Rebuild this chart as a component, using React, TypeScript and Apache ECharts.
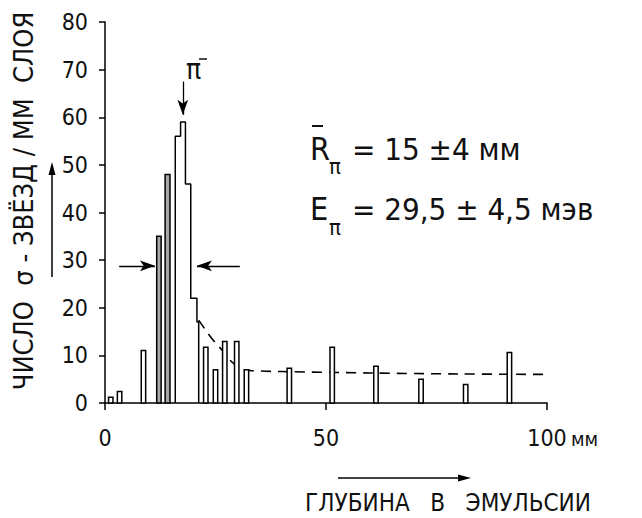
import React, { useEffect, useRef } from "react";
import * as echarts from "echarts";

// depth bins (mm) of the isolated histogram bars
const binLeft = [0.8, 2.8, 8.2, 11.7, 13.6, 22.3, 24.5, 26.6, 29.3, 31.5, 41.2, 50.9, 60.8, 71.0, 81.1, 91.0];
const binRight = [1.8, 3.8, 9.2, 12.7, 14.7, 23.3, 25.5, 27.6, 30.3, 32.5, 42.2, 51.9, 61.8, 72.0, 82.1, 92.0];
const binCount = [1.2, 2.4, 11, 35, 48, 11.7, 7.0, 12.9, 12.9, 7.0, 7.3, 11.7, 7.7, 5.0, 3.9, 10.6];
const binShaded = [0, 0, 0, 1, 1, 0, 0, 0, 0, 0, 0, 0, 0, 0, 0, 0];

// peak block (contiguous bins)
const peakEdges = [15.9, 17.1, 18.2, 19.4, 20.8, 21.2];
const peakCounts = [56, 59, 46, 22, 17];

// dashed background curve
const fitDepth = [21.2, 23, 25, 26.8, 28.3, 29.5, 31, 33, 40, 60, 80, 100];
const fitCount = [17.4, 15, 12.6, 10.8, 9, 8, 7.1, 6.8, 6.6, 6.3, 6.1, 6.0];

const xTickLabels = ["0", "50", "100"];

const FONT = "'DejaVu Sans Condensed', 'Liberation Sans Narrow', 'Liberation Sans', sans-serif";

export default function App() {
  const ref = useRef<HTMLDivElement>(null);
  useEffect(() => {
    if (!ref.current) return;
    const chart = echarts.init(ref.current, undefined, { renderer: "svg" });

    const peakLine: number[][] = [[peakEdges[0], 0]];
    peakCounts.forEach((v, i) => {
      peakLine.push([peakEdges[i], v]);
      peakLine.push([peakEdges[i + 1], v]);
    });
    peakLine.push([peakEdges[peakEdges.length - 1], 0]);

    const arrowHead = (x: number, y: number, dir: "up" | "down" | "left" | "right") => {
      const L = 13, W = 3.5;
      let pts: number[][] = [];
      if (dir === "up") pts = [[x, y], [x - W, y + L], [x + W, y + L]];
      if (dir === "down") pts = [[x, y], [x - W, y - L], [x + W, y - L]];
      if (dir === "right") pts = [[x, y], [x - L, y - W], [x - L, y + W]];
      if (dir === "left") pts = [[x, y], [x + L, y - W], [x + L, y + W]];
      return { type: "polygon", shape: { points: pts }, style: { fill: "#000" } };
    };

    chart.setOption({
      animation: false,
      backgroundColor: "#fff",
      grid: { left: 105, right: 95, top: 22, bottom: 115, containLabel: false },
      xAxis: {
        type: "value",
        min: 0,
        max: 100,
        interval: 50,
        axisLine: { lineStyle: { color: "#000", width: 1.5 } },
        axisTick: { show: true, length: 7, lineStyle: { color: "#000", width: 1.5 } },
        axisLabel: {
          color: "#111",
          fontSize: 23,
          fontFamily: FONT,
          margin: 23,
          formatter: (v: number) => xTickLabels[Math.round(v / 50)] ?? String(v),
        },
        splitLine: { show: false },
      },
      yAxis: {
        type: "value",
        min: 0,
        max: 80,
        interval: 10,
        axisLine: { show: true, lineStyle: { color: "#000", width: 1.5 } },
        axisTick: { show: true, length: 6, lineStyle: { color: "#000", width: 1.5 } },
        axisLabel: { color: "#111", fontSize: 23, fontFamily: FONT, margin: 17 },
        splitLine: { show: false },
      },
      series: [
        {
          type: "custom",
          renderItem: (params: any, api: any) => {
            const l = api.value(0), r = api.value(1), c = api.value(2), s = api.value(3);
            const p0 = api.coord([l, c]);
            const p1 = api.coord([r, 0]);
            return {
              type: "rect",
              shape: { x: p0[0], y: p0[1], width: p1[0] - p0[0], height: p1[1] - p0[1] },
              style: { fill: s ? "#a8a8a8" : "#fff", stroke: "#000", lineWidth: 1.5 },
            };
          },
          encode: { x: [0, 1], y: 2 },
          data: binLeft.map((l, i) => [l, binRight[i], binCount[i], binShaded[i]]),
          z: 3,
        },
        {
          type: "line",
          data: peakLine,
          symbol: "none",
          lineStyle: { color: "#000", width: 1.5 },
          z: 4,
          markLine: {
            silent: true,
            symbol: ["none", "arrow"],
            symbolSize: [8, 15],
            label: { show: false },
            lineStyle: { color: "#000", type: "solid", width: 1.3 },
            data: [
              [{ coord: [3.2, 28.8] }, { coord: [11.3, 28.8] }],
              [{ coord: [30.5, 28.8] }, { coord: [20.8, 28.8] }],
              [{ coord: [17.6, 67.5] }, { coord: [17.6, 60.5] }],
            ],
          },
        },
        {
          type: "line",
          data: fitDepth.map((d, i) => [d, fitCount[i]]),
          symbol: "none",
          smooth: 0.3,
          lineStyle: { color: "#000", width: 1.6, type: [10, 7] },
          z: 2,
        },
      ],
      graphic: [
        // pi- label over the peak arrow
        { type: "text", left: 186, top: 55, style: { text: "π", font: `28px ${FONT}`, fill: "#111" } },
        { type: "line", shape: { x1: 199, y1: 59, x2: 207, y2: 59 }, style: { stroke: "#111", lineWidth: 1.5 } },
        // R line
        { type: "text", x: 310, y: 149, style: { text: "R", font: `32px ${FONT}`, fill: "#111", verticalAlign: "middle" } },
        { type: "line", shape: { x1: 312, y1: 126, x2: 323, y2: 126 }, style: { stroke: "#111", lineWidth: 2 } },
        { type: "text", x: 329, y: 166, style: { text: "π", font: `22px ${FONT}`, fill: "#111", verticalAlign: "middle" } },
        { type: "text", x: 352, y: 149, style: { text: "= 15 ±4 мм", font: `31px ${FONT}`, fill: "#111", verticalAlign: "middle" } },
        // E line
        { type: "text", x: 310, y: 209, style: { text: "E", font: `32px ${FONT}`, fill: "#111", verticalAlign: "middle" } },
        { type: "text", x: 329, y: 227, style: { text: "π", font: `22px ${FONT}`, fill: "#111", verticalAlign: "middle" } },
        { type: "text", x: 352, y: 209, style: { text: "= 29,5 ± 4,5 мэв", font: `31px ${FONT}`, fill: "#111", verticalAlign: "middle" } },
        // y title
        {
          type: "text",
          x: 23,
          y: 201,
          rotation: Math.PI / 2,
          style: { text: "ЧИСЛО  σ - ЗВЁЗД / ММ  СЛОЯ", font: `27px ${FONT}`, fill: "#111", align: "center", verticalAlign: "middle" },
        },
        { type: "line", shape: { x1: 52, y1: 277, x2: 52, y2: 172 }, style: { stroke: "#000", lineWidth: 1.5 } },
        arrowHead(52, 162, "up"),
        // x unit
        { type: "text", x: 571, y: 439, style: { text: "мм", font: `20px ${FONT}`, fill: "#111", verticalAlign: "middle" } },
        // x title
        { type: "line", shape: { x1: 338, y1: 478, x2: 460, y2: 478 }, style: { stroke: "#000", lineWidth: 1.5 } },
        arrowHead(471, 478, "right"),
        {
          type: "text",
          x: 448,
          y: 503,
          style: { text: "ГЛУБИНА   В   ЭМУЛЬСИИ", font: `24px ${FONT}`, fill: "#111", align: "center", verticalAlign: "middle" },
        },
      ],
    });
    return () => chart.dispose();
  }, []);
  return <div ref={ref} style={{ position: "fixed", left: 0, top: 0, width: 642, height: 518, background: "#fff" }} />;
}
